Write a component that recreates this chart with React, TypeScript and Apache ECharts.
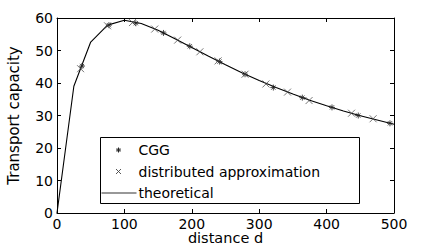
import React, { useEffect, useRef } from "react";
import * as echarts from "echarts";

const distances = [0, 25, 50, 75, 100, 125, 150, 175, 200, 225, 250, 275, 300, 325, 350, 375, 400, 425, 450, 475, 500];
const theoretical = [0, 39, 52.6, 57.8, 59.3, 58.3, 56.2, 53.6, 50.9, 48.2, 45.6, 43.1, 40.8, 38.6, 36.6, 34.7, 33.0, 31.4, 29.9, 28.6, 27.3];

const cggD = [37, 77, 117, 158, 197, 241, 279, 321, 364, 408, 447, 494];
const cggV = [45.2, 57.8, 58.4, 55.4, 51.3, 46.6, 42.7, 38.6, 35.5, 32.5, 30.0, 27.6];

const distD = [35, 75, 112, 145, 179, 212, 239, 279, 310, 342, 374, 437, 469];
const distV = [44.4, 57.6, 58.6, 56.6, 53.2, 49.6, 46.8, 42.7, 39.7, 37.2, 34.6, 30.7, 29.0];

const xTickValues = [0, 100, 200, 300, 400, 500];
const yTickValues = [0, 10, 20, 30, 40, 50, 60];

const legendNames = ["CGG", "distributed approximation", "theoretical"];
const xTitle = "distance d";
const yTitle = "Transport capacity";

const FONT = "DejaVu Sans";
const ASTERISK = "path://M5,0L5,10M0,5L10,5M1.5,1.5L8.5,8.5M1.5,8.5L8.5,1.5";
const CROSS = "path://M0,0L10,10M0,10L10,0";

export default function App() {
  const ref = useRef<HTMLDivElement>(null);
  useEffect(() => {
    document.body.style.margin = "0";
    if (!ref.current) return;
    const chart = echarts.init(ref.current, null, { renderer: "svg" });
    const xMin = xTickValues[0];
    const xMax = xTickValues[xTickValues.length - 1];
    const yMin = yTickValues[0];
    const yMax = yTickValues[yTickValues.length - 1];
    const axisCommon = {
      axisLine: { show: true, onZero: false, lineStyle: { color: "#000", width: 1 } },
      axisTick: { show: true, inside: true, length: 4, lineStyle: { color: "#000", width: 1 } },
      splitLine: { show: false },
    };
    const labelStyle = { color: "#000", fontFamily: FONT, fontSize: 14, margin: 4 };
    chart.setOption({
      animation: false,
      backgroundColor: "#fff",
      grid: { left: 57, right: 42, top: 18, bottom: 32, containLabel: false, outerBoundsMode: "none" },
      xAxis: [
        {
          type: "value", min: xMin, max: xMax, interval: 100, position: "bottom",
          ...axisCommon,
          axisLabel: { ...labelStyle, margin: 4, lineHeight: 14, formatter: (v: number) => String(v) },
          name: xTitle, nameLocation: "middle", nameGap: 18, nameMoveOverlap: false,
          nameTextStyle: { color: "#000", fontFamily: FONT, fontSize: 14.5, lineHeight: 13 },
        },
        {
          type: "value", min: xMin, max: xMax, interval: 100, position: "top",
          ...axisCommon, axisLabel: { show: false },
        },
      ],
      yAxis: [
        {
          type: "value", min: yMin, max: yMax, interval: 10, position: "left",
          ...axisCommon,
          axisLabel: { ...labelStyle },
          name: yTitle, nameLocation: "middle", nameGap: 36, nameMoveOverlap: false,
          nameTextStyle: { color: "#000", fontFamily: FONT, fontSize: 15 },
        },
        {
          type: "value", min: yMin, max: yMax, interval: 10, position: "right",
          ...axisCommon, axisLabel: { show: false },
        },
      ],
      series: [
        {
          name: legendNames[2], type: "line", silent: true,
          data: distances.map((d, i) => [d, theoretical[i]]),
          showSymbol: false, symbol: "none",
          lineStyle: { color: "#000", width: 1.1 },
          z: 2,
        },
        {
          name: legendNames[0], type: "scatter", silent: true,
          data: cggD.map((d, i) => [d, cggV[i]]),
          symbol: ASTERISK, symbolSize: 6,
          itemStyle: { color: "none", borderColor: "#222", borderWidth: 1 },
          z: 3,
        },
        {
          name: legendNames[1], type: "scatter", silent: true,
          data: distD.map((d, i) => [d, distV[i]]),
          symbol: CROSS, symbolSize: 7,
          itemStyle: { color: "none", borderColor: "#444", borderWidth: 0.9 },
          z: 3,
        },
      ],
      graphic: [
        {
          type: "group", left: 99, top: 137, silent: true,
          children: [
            { type: "rect", shape: { x: 0, y: 0, width: 259, height: 66 }, style: { fill: "#fff", stroke: "#000", lineWidth: 1 } },
            { type: "line", shape: { x1: 18, y1: 10, x2: 18, y2: 15 }, style: { stroke: "#222", lineWidth: 1 } },
            { type: "line", shape: { x1: 15.5, y1: 12.5, x2: 20.5, y2: 12.5 }, style: { stroke: "#222", lineWidth: 1 } },
            { type: "line", shape: { x1: 16.3, y1: 10.8, x2: 19.7, y2: 14.2 }, style: { stroke: "#222", lineWidth: 1 } },
            { type: "line", shape: { x1: 16.3, y1: 14.2, x2: 19.7, y2: 10.8 }, style: { stroke: "#222", lineWidth: 1 } },
            { type: "text", x: 38, y: 12.5, style: { text: legendNames[0], fill: "#000", font: `14px "${FONT}"`, verticalAlign: "middle" } },
            { type: "line", shape: { x1: 15.5, y1: 31.5, x2: 20.5, y2: 36.5 }, style: { stroke: "#444", lineWidth: 0.9 } },
            { type: "line", shape: { x1: 15.5, y1: 36.5, x2: 20.5, y2: 31.5 }, style: { stroke: "#444", lineWidth: 0.9 } },
            { type: "text", x: 38, y: 34, style: { text: legendNames[1], fill: "#000", font: `14px "${FONT}"`, verticalAlign: "middle" } },
            { type: "line", shape: { x1: 1, y1: 55.5, x2: 36, y2: 55.5 }, style: { stroke: "#333", lineWidth: 1.2 } },
            { type: "text", x: 38, y: 55.5, style: { text: legendNames[2], fill: "#000", font: `14px "${FONT}"`, verticalAlign: "middle" } },
          ],
        },
      ],
    });
    return () => chart.dispose();
  }, []);
  return <div ref={ref} style={{ width: 436, height: 245 }} />;
}
